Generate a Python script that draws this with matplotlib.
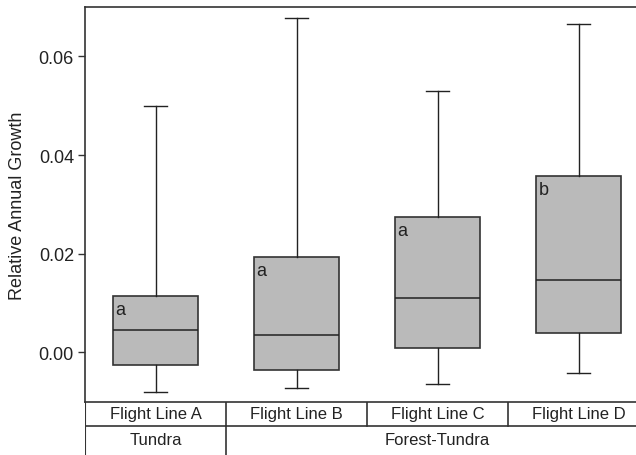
import matplotlib.pyplot as plt

plt.rcParams['font.family'] = ['Liberation Sans', 'DejaVu Sans']

# box statistics
flight_lines = ['Flight Line A', 'Flight Line B', 'Flight Line C', 'Flight Line D']
zones = ['Tundra', 'Forest-Tundra']
whisker_low = [-0.0081, -0.0073, -0.0064, -0.0042]
q1 = [-0.0026, -0.0035, 0.0008, 0.0040]
median = [0.0045, 0.0035, 0.0111, 0.0147]
q3 = [0.0115, 0.0194, 0.0275, 0.0357]
whisker_high = [0.0499, 0.0678, 0.0530, 0.0666]
letters = ['a', 'a', 'a', 'b']

edge = '#333333'
fill = '#bababa'

fig = plt.figure(figsize=(6.36, 4.56), dpi=100)
W, H = 636, 456
left, right = 85, 649
top, bottom = 8, 402.7
ax = fig.add_axes([left / W, 1 - bottom / H, (right - left) / W, (bottom - top) / H])

stats = []
for i in range(4):
    stats.append(dict(whislo=whisker_low[i], q1=q1[i], med=median[i],
                      q3=q3[i], whishi=whisker_high[i], fliers=[]))

pos = [1, 2, 3, 4]
ax.bxp(stats, positions=pos, widths=0.6, capwidths=0.17, patch_artist=True,
       showfliers=False,
       boxprops=dict(facecolor=fill, edgecolor=edge, linewidth=1.2),
       medianprops=dict(color='#222222', linewidth=1.1),
       whiskerprops=dict(color='#222222', linewidth=1.0),
       capprops=dict(color='#222222', linewidth=1.0))

for p, top_q, lab in zip(pos, q3, letters):
    ax.text(p - 0.285, top_q - 0.0010, lab, fontsize=13, color='#222222',
            ha='left', va='top')

ax.set_xlim(0.5, 4.5)
ax.set_ylim(-0.010, 0.070)
ax.set_yticks([0.00, 0.02, 0.04, 0.06])
ax.set_yticklabels(['0.00', '0.02', '0.04', '0.06'])
ax.set_xticks([])
ax.tick_params(axis='y', labelsize=13, length=5, width=1, color=edge, pad=3,
               labelcolor='#222222')
ax.set_ylabel('Relative Annual Growth', fontsize=13, color='#222222', labelpad=9)
for s in ax.spines.values():
    s.set_color(edge)
    s.set_linewidth(1.2)
ax.spines['right'].set_visible(False)

# table of flight lines and zones under the plot (in pixel units)
tab_bottom = 462
tab_h = tab_bottom - bottom
row_line = tab_bottom - 427
tab = fig.add_axes([left / W, 1 - tab_bottom / H, (right - left) / W, tab_h / H])
tab.set_xlim(0.5, 4.5)
tab.set_ylim(0, tab_h)
tab.axis('off')
tab.axhline(row_line, color=edge, lw=1.2)
tab.axvline(0.5, color=edge, lw=1.5)
for x in [1.5, 2.5, 3.5]:
    tab.plot([x, x], [row_line, tab_h], color=edge, lw=1.2)
tab.plot([1.5, 1.5], [0, row_line], color=edge, lw=1.2)
row1_y = tab_bottom - 415
row2_y = tab_bottom - 440.5
for p, name in zip(pos, flight_lines):
    tab.text(p, row1_y, name, ha='center', va='center', fontsize=12, color='#222222')
tab.text(1, row2_y, zones[0], ha='center', va='center', fontsize=12, color='#222222')
tab.text(3, row2_y, zones[1], ha='center', va='center', fontsize=12, color='#222222')

fig.savefig('out.png', dpi=100)
